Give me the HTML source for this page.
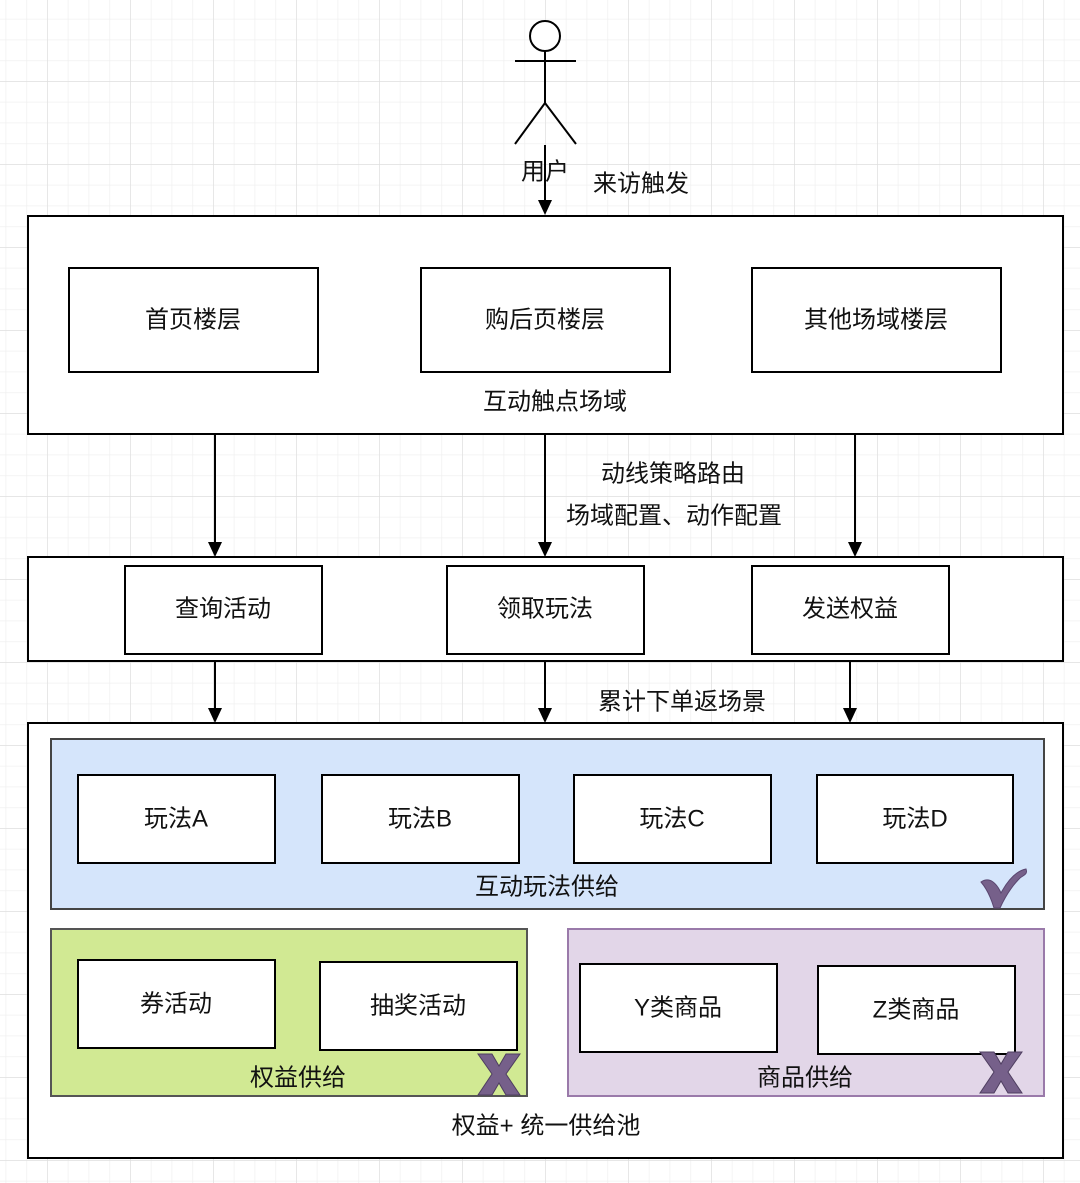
<!DOCTYPE html>
<html><head><meta charset="utf-8"><style>
html,body{margin:0;padding:0;background:#fff}
svg{display:block}
text{font-family:"Liberation Sans","Noto Sans CJK SC",sans-serif;font-size:24px;fill:#111;text-anchor:middle;dominant-baseline:central}
</style></head><body>
<svg width="1080" height="1183" viewBox="0 0 1080 1183" xmlns="http://www.w3.org/2000/svg">
<defs>
<pattern id="minor" x="5.5" y="18.75" width="20.75" height="20.75" patternUnits="userSpaceOnUse">
<path d="M0 0H20.75M0 0V20.75" stroke="#f0f0f0" stroke-width="1.5" fill="none"/>
</pattern>
<pattern id="major" x="47" y="81" width="83" height="83" patternUnits="userSpaceOnUse">
<path d="M0 0H83M0 0V83" stroke="#dcdcdc" stroke-width="1.2" fill="none"/>
</pattern>
</defs>
<rect width="1080" height="1183" fill="url(#minor)"/>
<rect width="1080" height="1183" fill="url(#major)"/>

<g stroke="#000" stroke-width="2" fill="none">
<circle cx="545" cy="36" r="15" fill="#fff"/>
<path d="M545 51V103M515 61H576M545 103L515 144M545 103L576 144"/>
</g>
<path d="M545 145V204" stroke="#000" stroke-width="2"/>
<path d="M538 200L545 215L552 200Z" fill="#000"/>
<text x="545" y="172">用户</text>
<text x="641" y="184">来访触发</text>

<rect x="28" y="216" width="1035" height="218" fill="#fff" stroke="#000" stroke-width="2"/>
<g fill="#fff" stroke="#000" stroke-width="2">
<rect x="69" y="268" width="249" height="104"/>
<rect x="421" y="268" width="249" height="104"/>
<rect x="752" y="268" width="249" height="104"/>
</g>
<text x="193" y="320">首页楼层</text>
<text x="545" y="320">购后页楼层</text>
<text x="876" y="320">其他场域楼层</text>
<text x="555" y="402">互动触点场域</text>

<g stroke="#000" stroke-width="2">
<path d="M215 434V545M545 434V545M855 434V545"/>
<path d="M215 661V710M545 661V710M850 661V710"/>
</g>
<g fill="#000">
<path d="M208 542L215 557L222 542Z"/><path d="M538 542L545 557L552 542Z"/><path d="M848 542L855 557L862 542Z"/>
<path d="M208 708L215 723L222 708Z"/><path d="M538 708L545 723L552 708Z"/><path d="M843 708L850 723L857 708Z"/>
</g>
<text x="673" y="474">动线策略路由</text>
<text x="674" y="516">场域配置、动作配置</text>

<rect x="28" y="557" width="1035" height="104" fill="#fff" stroke="#000" stroke-width="2"/>
<g fill="#fff" stroke="#000" stroke-width="2">
<rect x="125" y="566" width="197" height="88"/>
<rect x="447" y="566" width="197" height="88"/>
<rect x="752" y="566" width="197" height="88"/>
</g>
<text x="223" y="609">查询活动</text>
<text x="545" y="609">领取玩法</text>
<text x="850" y="609">发送权益</text>
<text x="682" y="702">累计下单返场景</text>

<rect x="28" y="723" width="1035" height="435" fill="#fff" stroke="#000" stroke-width="2"/>
<rect x="51" y="739" width="993" height="170" fill="#d5e5fb" stroke="#444" stroke-width="2"/>
<g fill="#fff" stroke="#000" stroke-width="2">
<rect x="78" y="775" width="197" height="88"/>
<rect x="322" y="775" width="197" height="88"/>
<rect x="574" y="775" width="197" height="88"/>
<rect x="817" y="775" width="196" height="88"/>
</g>
<text x="176" y="819">玩法A</text>
<text x="420" y="819">玩法B</text>
<text x="672" y="819">玩法C</text>
<text x="915" y="819">玩法D</text>
<text x="547" y="887">互动玩法供给</text>
<path d="M981 882C990 876 997 884 1001 893C1008 880 1016 871 1026 869C1028 874 1024 875 1020 878C1012 886 1005 897 1000 908H994C991 898 987 889 981 882Z" fill="#76608a" stroke="#5a4670" stroke-width="1"/>

<rect x="51" y="929" width="476" height="167" fill="#d1e993" stroke="#555" stroke-width="2"/>
<g fill="#fff" stroke="#000" stroke-width="2">
<rect x="78" y="960" width="197" height="88"/>
<rect x="320" y="962" width="197" height="88"/>
</g>
<text x="176" y="1004">券活动</text>
<text x="418" y="1006">抽奖活动</text>
<text x="298" y="1078">权益供给</text>

<rect x="568" y="929" width="476" height="167" fill="#e2d6e8" stroke="#9a7aaa" stroke-width="2"/>
<g fill="#fff" stroke="#000" stroke-width="2">
<rect x="580" y="964" width="197" height="88"/>
<rect x="818" y="966" width="197" height="88"/>
</g>
<text x="678" y="1008">Y类商品</text>
<text x="916" y="1010">Z类商品</text>
<text x="805" y="1078">商品供给</text>

<g fill="#76608a" stroke="#4e3e60" stroke-width="1">
<path d="M478 1054H492L499 1066L506 1054H520L506 1074L520 1095H506L499 1083L492 1095H478L492 1074Z"/>
<path d="M980 1052H994L1001 1064L1008 1052H1022L1008 1072L1022 1093H1008L1001 1081L994 1093H980L994 1072Z"/>
</g>
<text x="546" y="1126">权益+ 统一供给池</text>
</svg>
</body></html>
